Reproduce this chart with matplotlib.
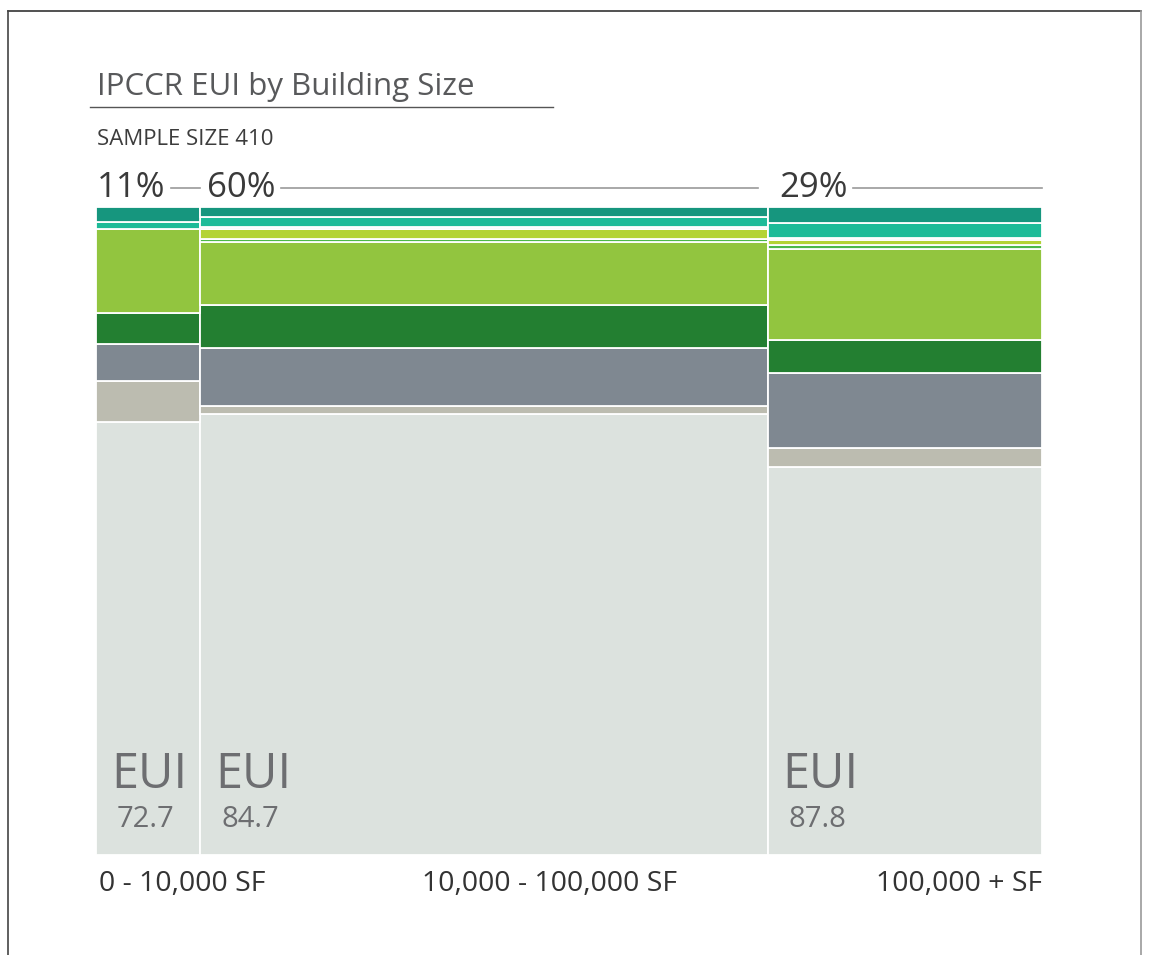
import matplotlib
matplotlib.use("Agg")
import matplotlib.pyplot as plt
from matplotlib.lines import Line2D

plt.rcParams['font.family'] = ['Open Sans', 'DejaVu Sans']

# column shares (% of sample) and labels
shares = [11, 60, 29]
share_labels = ["11%", "60%", "29%"]
size_labels = ["0 - 10,000 SF", "10,000 - 100,000 SF", "100,000 + SF"]
eui = [72.7, 84.7, 87.8]

# stacked segments, bottom to top (% of column height)
light_grey = [66.8, 68.05, 59.88]
beige = [6.4, 1.2, 2.93]
grey = [5.7, 9.0, 11.57]
dark_green = [4.8, 6.7, 5.17]
light_green = [12.9, 9.6, 13.97]
green_thin = [0.0, 0.5, 0.62]
yellow_green = [0.0, 1.5, 0.8]
light_blue = [0.0, 0.31, 0.32]
teal_light = [1.13, 1.67, 2.27]
teal_dark = [2.27, 1.5, 2.47]

layers = [light_grey, beige, grey, dark_green, light_green,
          green_thin, yellow_green, light_blue, teal_light, teal_dark]
colors = ["#dce2de", "#bcbcb0", "#7f8891", "#237f31", "#92c53f",
          "#4db848", "#b4d334", "#c8dfe6", "#1dbb98", "#16967e"]

W, H = 1154, 955
fig = plt.figure(figsize=(W / 100, H / 100), dpi=100)
ax_l, ax_r, ax_t, ax_b = 96, 1042, 207, 855
ax = fig.add_axes([ax_l / W, 1 - ax_b / H, (ax_r - ax_l) / W, (ax_b - ax_t) / H])
ax.set_xlim(0, 100)
ax.set_ylim(0, 100)
ax.axis("off")

px_x = (ax_r - ax_l) / 100.0
px_y = (ax_b - ax_t) / 100.0

lefts = []
acc = 0
for s in shares:
    lefts.append(acc)
    acc += s

bottoms = [0.0] * len(shares)
for vals, c in zip(layers, colors):
    ax.bar(lefts, vals, width=shares, bottom=bottoms, align="edge",
           color=c, edgecolor="white", linewidth=1.3)
    bottoms = [b + v for b, v in zip(bottoms, vals)]

# percent labels with rules
pct_pad = [1, 7, 12]
line_gap = [0, 10, 0]
fig.canvas.draw()
renderer = fig.canvas.get_renderer()
pct_y = 100 + (ax_t - 188) / px_y
for i, (l, s) in enumerate(zip(lefts, shares)):
    t = ax.text(l + pct_pad[i] / px_x, pct_y, share_labels[i], fontsize=25,
                color="#3a3a3a", va="center", ha="left", clip_on=False)
    bb = t.get_window_extent(renderer)
    x0 = ax.transData.inverted().transform((bb.x1 + 5, 0))[0]
    x1 = l + s - line_gap[i] / px_x
    ax.plot([x0, x1], [pct_y, pct_y], color="#9a9a9a", lw=1.2, clip_on=False)

# EUI labels
for l, v in zip(lefts, eui):
    ax.text(l + 15 / px_x, (ax_b - 788) / px_y, "EUI", fontsize=35,
            color="#6d6e71", ha="left", va="baseline")
    ax.text(l + 50 / px_x, (ax_b - 827) / px_y, f"{v}", fontsize=21,
            color="#6d6e71", ha="center", va="baseline")

# size labels under columns
lab_y = -(891 - ax_b) / px_y
ax.text(0.3, lab_y, size_labels[0], fontsize=20.5, color="#333333",
        ha="left", va="baseline", clip_on=False)
ax.text((550 - ax_l) / px_x, lab_y, size_labels[1], fontsize=20.5,
        color="#333333", ha="center", va="baseline", clip_on=False)
ax.text(100, lab_y, size_labels[2], fontsize=20.5, color="#333333",
        ha="right", va="baseline", clip_on=False)

# title block
fig.text(97 / W, 1 - 95 / H, "IPCCR EUI by Building Size", fontsize=22.5,
         color="#58595b", ha="left", va="baseline")
fig.add_artist(Line2D([90 / W, 553 / W], [1 - 107 / H, 1 - 107 / H],
                      color="#555555", lw=1.0))
fig.text(97 / W, 1 - 145 / H, "SAMPLE SIZE 410", fontsize=16,
         color="#3c3c3c", ha="left", va="baseline")

# frame
fig.add_artist(Line2D([8 / W, 1141 / W], [1 - 11 / H, 1 - 11 / H], color="#333333", lw=1.2))
fig.add_artist(Line2D([8 / W, 8 / W], [1 - 11 / H, 0], color="#444444", lw=1.2))
fig.add_artist(Line2D([1141 / W, 1141 / W], [1 - 11 / H, 0], color="#999999", lw=1.2))

fig.savefig("out.png", dpi=100)
